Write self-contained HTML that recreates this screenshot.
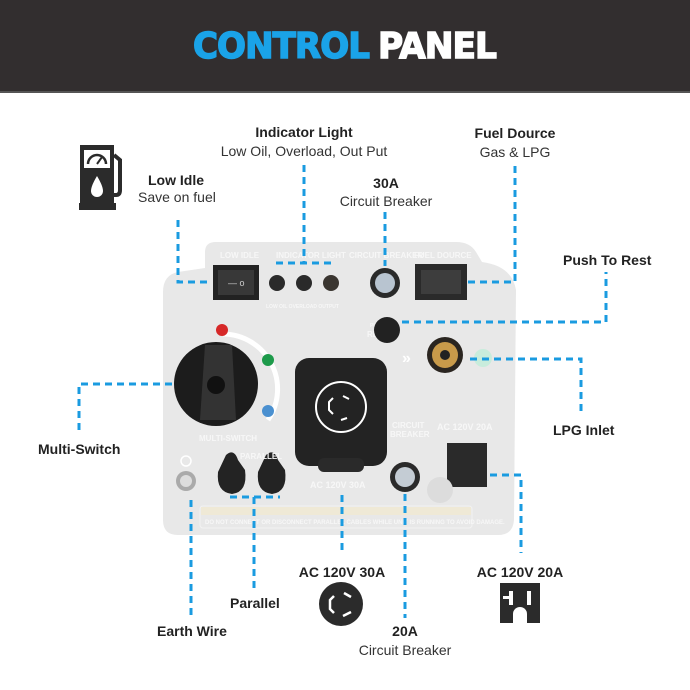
<!DOCTYPE html>
<html><head><meta charset="utf-8"><style>
html,body{margin:0;padding:0;background:#fff;}
svg{display:block;}
text{font-family:"Liberation Sans","DejaVu Sans",sans-serif;}
.b{font-weight:bold;font-size:14px;fill:#222;}
.r{font-size:14px;fill:#333;}
.d{stroke:#1a9be0;stroke-width:3;fill:none;stroke-dasharray:7 5;}
.pt{fill:#f7f7f7;font-weight:bold;}
</style></head><body>
<svg width="690" height="690" viewBox="0 0 690 690" xmlns="http://www.w3.org/2000/svg">
<rect x="0" y="0" width="690" height="91" fill="#322e2f"/>
<rect x="0" y="91" width="690" height="2" fill="#555"/>
<text x="193" y="58" font-size="36" font-weight="bold" fill="#1aa3e8" stroke="#1aa3e8" stroke-width="1.5" style="font-family:'DejaVu Sans','Liberation Sans',sans-serif;letter-spacing:-1px" textLength="176" lengthAdjust="spacingAndGlyphs">CONTROL</text>
<text x="378" y="58" font-size="36" font-weight="bold" fill="#fff" stroke="#fff" stroke-width="1.5" style="font-family:'DejaVu Sans','Liberation Sans',sans-serif;letter-spacing:-1px" textLength="118" lengthAdjust="spacingAndGlyphs">PANEL</text>

<!-- panel -->
<path d="M205,252 Q205,242 216,242 L456,242 Q470,242 476,252 L482,262 Q512,266 516,290 L514,520 Q513,535 498,535 L178,535 Q163,535 163,520 L163,292 Q163,275 178,272 L205,268 Z" fill="#e8e8e8"/>
<text class="pt" x="220" y="258" font-size="8">LOW IDLE</text>
<text class="pt" x="276" y="258" font-size="8">INDICATOR LIGHT</text>
<text class="pt" x="349" y="258" font-size="8">CIRCUIT BREAKER</text>
<text class="pt" x="414" y="258" font-size="8">FUEL DOURCE</text>
<!-- low idle rocker -->
<rect x="213" y="265" width="46" height="35" fill="#222"/>
<rect x="218" y="270" width="36" height="25" fill="#383838"/>
<text x="228" y="286" font-size="9" fill="#ccc">— o</text>
<!-- LEDs -->
<circle cx="277" cy="283" r="8" fill="#2a2a2a"/><circle cx="304" cy="283" r="8" fill="#2a2a2a"/><circle cx="331" cy="283" r="8" fill="#3a3530"/>
<text class="pt" x="266" y="308" font-size="5">LOW OIL  OVERLOAD  OUTPUT</text>
<!-- breaker 30 -->
<circle cx="385" cy="283" r="15" fill="#2a2a2a"/><circle cx="385" cy="283" r="10" fill="#b8c4d0"/>
<!-- fuel rocker -->
<rect x="415" y="264" width="52" height="36" fill="#2a2a2a"/><rect x="421" y="270" width="40" height="24" fill="#3d3d3d"/>
<!-- reset -->
<text class="pt" x="370" y="327" font-size="5">PUSH TO</text>
<text class="pt" x="367" y="337" font-size="8">RESET</text>
<circle cx="387" cy="330" r="13" fill="#222"/>
<!-- brass -->
<text x="402" y="363" font-size="16" fill="#fff" font-weight="bold">»</text>
<circle cx="445" cy="355" r="18" fill="#2a2520"/><circle cx="445" cy="355" r="13" fill="#c89a4a"/><circle cx="445" cy="355" r="5" fill="#222"/>
<circle cx="483" cy="358" r="9" fill="#c8ecdc"/>
<!-- knob -->
<path d="M223,334 A55,55 0 0 1 268,420" stroke="#fff" stroke-width="5" fill="none"/>
<circle cx="222" cy="330" r="6" fill="#d62828"/>
<circle cx="268" cy="360" r="6" fill="#1d9a4a"/>
<circle cx="268" cy="411" r="6" fill="#4a90d0"/>
<circle cx="216" cy="384" r="42" fill="#1c1c1c"/>
<path d="M205,345 L232,345 L236,420 L200,420 Z" fill="#333"/>
<circle cx="216" cy="385" r="9" fill="#111"/>
<text class="pt" x="199" y="441" font-size="8">MULTI-SWITCH</text>
<!-- L30 cover -->
<rect x="295" y="358" width="92" height="108" rx="14" fill="#232323"/>
<rect x="318" y="458" width="46" height="14" rx="6" fill="#2a2a2a"/>
<circle cx="341" cy="407" r="25" fill="none" stroke="#fff" stroke-width="2"/>
<path d="M333,398 L329,402 L329,410 L333,414" stroke="#fff" stroke-width="2" fill="none"/>
<path d="M343,396 L349,399" stroke="#fff" stroke-width="2"/><path d="M347,418 L341,420" stroke="#fff" stroke-width="2"/>
<text class="pt" x="310" y="488" font-size="9">AC 120V 30A</text>
<!-- breaker 20 -->
<text class="pt" x="392" y="428" font-size="8">CIRCUIT</text>
<text class="pt" x="390" y="437" font-size="8">BREAKER</text>
<circle cx="405" cy="477" r="15" fill="#2a2a2a"/><circle cx="405" cy="477" r="10" fill="#c4ccd4"/>
<text class="pt" x="437" y="430" font-size="9">AC 120V 20A</text>
<rect x="447" y="443" width="40" height="44" fill="#2a2a2a"/>
<circle cx="440" cy="490" r="13" fill="#dcdcdc"/>
<!-- earth + parallel -->
<circle cx="186" cy="481" r="10" fill="#aaa"/><circle cx="186" cy="481" r="6" fill="#ddd"/>
<circle cx="186" cy="461" r="5" fill="none" stroke="#fff" stroke-width="1.5"/>
<path d="M226,455 Q234,448 238,460 L245,470 Q248,492 232,494 Q216,492 218,472 Z" fill="#232323"/>
<path d="M266,455 Q274,448 278,460 L285,470 Q288,492 272,494 Q256,492 258,472 Z" fill="#232323"/>
<text class="pt" x="240" y="459" font-size="8">PARALLEL</text>
<!-- caution -->
<rect x="200" y="506" width="272" height="22" rx="3" fill="none" stroke="#f2f2f2" stroke-width="1"/>
<rect x="201" y="507" width="270" height="8" fill="#efe9d6"/>
<text class="pt" x="205" y="524" font-size="6">DO NOT CONNECT OR DISCONNECT PARALLEL CABLES WHILE UNIT IS RUNNING TO AVOID DAMAGE.</text>

<!-- dashed connectors -->
<path class="d" d="M178,220 L178,282 L207,282"/>
<path class="d" d="M304,165 L304,263 M276,263 L333,263"/>
<path class="d" d="M385,212 L385,266"/>
<path class="d" d="M515,166 L515,282 L466,282"/>
<path class="d" d="M402,322 L606,322 L606,272"/>
<path class="d" d="M470,359 L581,359 L581,414"/>
<path class="d" d="M172,384 L79,384 L79,433"/>
<path class="d" d="M230,497 L280,497 M254,497 L254,588"/>
<path class="d" d="M191,500 L191,618"/>
<path class="d" d="M342,495 L342,550"/>
<path class="d" d="M405,494 L405,618"/>
<path class="d" d="M490,475 L521,475 L521,553"/>

<!-- labels -->
<text class="b" x="304" y="137" text-anchor="middle">Indicator Light</text>
<text class="r" x="304" y="156" text-anchor="middle">Low Oil, Overload, Out Put</text>
<text class="b" x="515" y="138" text-anchor="middle">Fuel  Dource</text>
<text class="r" x="515" y="157" text-anchor="middle">Gas &amp; LPG</text>
<text class="b" x="148" y="185">Low Idle</text>
<text class="r" x="138" y="202">Save on fuel</text>
<text class="b" x="386" y="188" text-anchor="middle">30A</text>
<text class="r" x="386" y="206" text-anchor="middle">Circuit Breaker</text>
<text class="b" x="563" y="265">Push To Rest</text>
<text class="b" x="553" y="435">LPG Inlet</text>
<text class="b" x="38" y="454">Multi-Switch</text>
<text class="b" x="342" y="577" text-anchor="middle">AC 120V 30A</text>
<text class="b" x="520" y="577" text-anchor="middle">AC 120V 20A</text>
<text class="b" x="230" y="608">Parallel</text>
<text class="b" x="157" y="636">Earth Wire</text>
<text class="b" x="405" y="636" text-anchor="middle">20A</text>
<text class="r" x="405" y="655" text-anchor="middle">Circuit Breaker</text>

<!-- fuel pump icon -->
<rect x="80" y="145" width="34" height="60" fill="#2b2b2b"/>
<rect x="79" y="203" width="37" height="7" fill="#2b2b2b"/>
<rect x="84" y="150" width="26" height="18" fill="#fff"/>
<path d="M88,164 A9,9 0 0 1 106,164" stroke="#2b2b2b" stroke-width="2.5" fill="none"/>
<path d="M97,164 L102,157" stroke="#2b2b2b" stroke-width="2"/>
<path d="M97,176 Q91,186 91,191 A6,6 0 0 0 103,191 Q103,186 97,176 Z" fill="#fff"/>
<path d="M114,155 L120,160 L120,190 Q120,195 116,195 L114,195" stroke="#2b2b2b" stroke-width="4" fill="none"/>
<!-- L30 icon -->
<circle cx="341" cy="604" r="22" fill="#2b2b2b"/>
<path d="M334,596 L330,600 L330,609 L334,613" stroke="#fff" stroke-width="2.5" fill="none"/>
<path d="M344,593 L351,597" stroke="#fff" stroke-width="2.5"/>
<path d="M351,612 L343,616" stroke="#fff" stroke-width="2.5"/>
<!-- outlet icon -->
<rect x="500" y="583" width="40" height="40" fill="#2b2b2b"/>
<rect x="509" y="591" width="4" height="14" fill="#fff"/>
<rect x="503" y="596" width="8" height="3" fill="#fff"/>
<rect x="527" y="591" width="4" height="14" fill="#fff"/>
<path d="M513,623 L513,614 A7,7 0 0 1 527,614 L527,623 Z" fill="#fff"/>
</svg>
</body></html>
